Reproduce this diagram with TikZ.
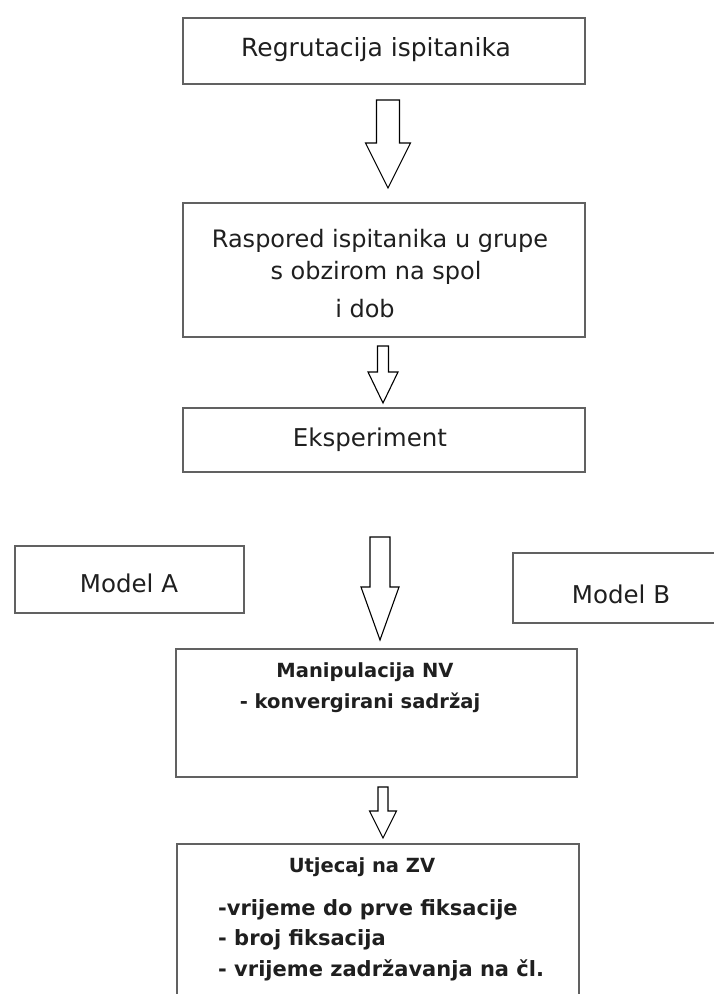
\documentclass[tikz,border=0pt]{standalone}
\usepackage{fontspec}
\setmainfont{DejaVu Sans}
\newcommand{\blkarrow}[6]{% x, top, headY, tip, shaft half, head half
  \draw[blk] (#1-#5,#2) -- (#1+#5,#2) -- (#1+#5,#3) -- (#1+#6,#3) -- (#1,#4) -- (#1-#6,#3) -- (#1-#5,#3) -- cycle;}
\begin{document}
\begin{tikzpicture}[x=1pt,y=-1pt,
  box/.style={draw=black!62, line width=1.7pt, fill=white, inner sep=0pt},
  blk/.style={draw=black, line width=1.1pt, fill=white, line join=miter},
  lbl/.style={inner sep=0pt, text=black!88},
  big/.style={font=\fontsize{24.5}{29}\selectfont},
  bld/.style={font=\bfseries\fontsize{19.5}{23}\selectfont},
  bldl/.style={font=\bfseries\fontsize{21}{25}\selectfont}]
\clip (0,0) rectangle (714,994);
\fill[white] (0,0) rectangle (714,994);

% boxes
\node[box, minimum width=402pt, minimum height=66pt, anchor=north west] (b1) at (182,17) {};
\node[box, minimum width=402pt, minimum height=134pt, anchor=north west] (b2) at (182,202) {};
\node[box, minimum width=402pt, minimum height=64pt, anchor=north west] (b3) at (182,407) {};
\node[box, minimum width=229pt, minimum height=67pt, anchor=north west] (ma) at (14,545) {};
\node[box, minimum width=220pt, minimum height=70pt, anchor=north west] (mb) at (512,552) {};
\node[box, minimum width=401pt, minimum height=128pt, anchor=north west] (b4) at (175,648) {};
\node[box, minimum width=402pt, minimum height=170pt, anchor=north west] (b5) at (176,843) {};

% texts
\node[lbl, font=\fontsize{25}{30}\selectfont] (t1) at (376,50) {Regrutacija ispitanika};
\node[lbl, font=\fontsize{24}{29}\selectfont] (t2a) at (380,241) {Raspored ispitanika u grupe};
\node[lbl, font=\fontsize{24}{29}\selectfont] (t2b) at (376,273) {s obzirom na spol};
\node[lbl, font=\fontsize{24}{29}\selectfont] (t2c) at (365,309) {i dob};
\node[lbl, big] (t3) at (370,440) {Eksperiment};
\node[lbl, big] (tma) at (129,583) {Model A};
\node[lbl, big] (tmb) at (621,594) {Model B};
\node[lbl, bld] (t4a) at (365,672) {Manipulacija NV};
\node[lbl, bld] (t4b) at (360,703) {- konvergirani sadržaj};
\node[lbl, bld] (t5a) at (362,867) {Utjecaj na ZV};
\node[lbl, bldl, anchor=west] (t5b) at (218,910) {-vrijeme do prve fiksacije};
\node[lbl, bldl, anchor=west] (t5c) at (218,940) {- broj fiksacija};
\node[lbl, bldl, anchor=west] (t5d) at (218,970) {- vrijeme zadržavanja na čl.};

% block arrows
\blkarrow{388}{100}{143}{188}{11.5}{22.5}
\blkarrow{383}{346}{372}{403}{5.5}{15}
\blkarrow{380}{537}{587}{640}{10}{19}
\blkarrow{383}{787}{811}{838}{5}{13.5}
\end{tikzpicture}
\end{document}
